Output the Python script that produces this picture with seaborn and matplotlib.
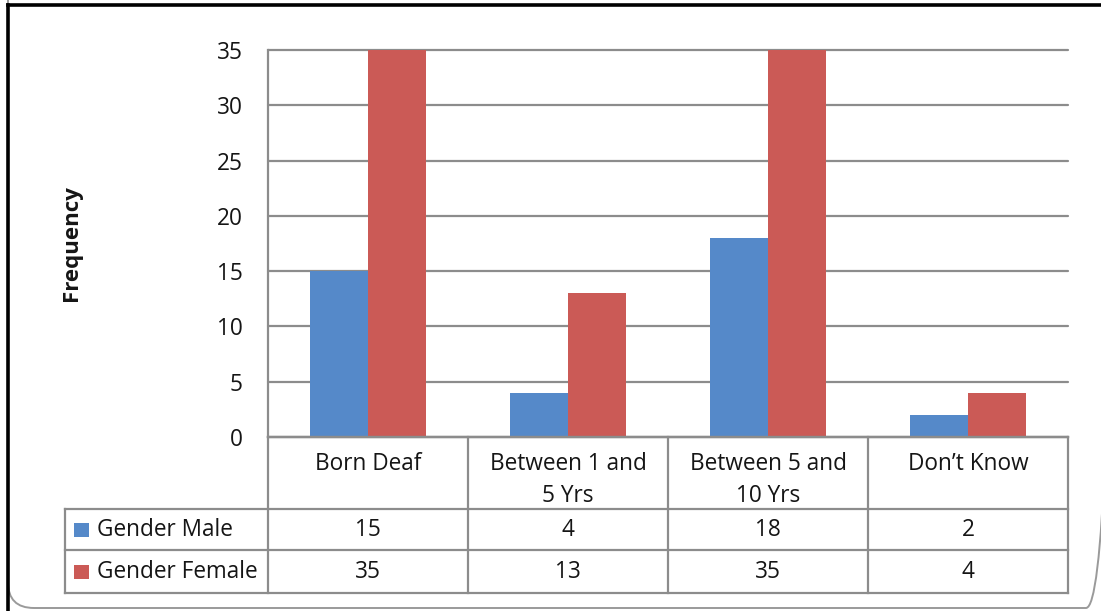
import matplotlib
matplotlib.use("Agg")
import matplotlib.pyplot as plt
import seaborn as sns
import pandas as pd
from matplotlib.patches import FancyBboxPatch, Rectangle
from matplotlib.lines import Line2D

# ---- data ----
categories = ["Born Deaf", "Between 1 and\n5 Yrs", "Between 5 and\n10 Yrs", "Don\u2019t Know"]
series_names = ["Gender Male", "Gender Female"]
male_values = [15, 4, 18, 2]
female_values = [35, 13, 35, 4]
y_ticks = [0, 5, 10, 15, 20, 25, 30, 35]
colors = ["#5589C9", "#CB5A56"]

# ---- styling ----
W, H = 1101, 611
sns.set_theme(style="white")
plt.rcParams["font.family"] = ["Open Sans", "DejaVu Sans"]
TEXT = "#151515"
GRID = "#8C8C8C"
FS = 16.3

fig = plt.figure(figsize=(W / 100, H / 100), dpi=100)
fig.patch.set_facecolor("white")

# layout (pixels)
plot_l, plot_r, plot_t, plot_b = 268, 1068, 50, 437
label_l = 65
row_edges = [437, 509, 550, 593]


def rect(l, t, r, b):
    return [l / W, 1 - b / H, (r - l) / W, (b - t) / H]


# ---- bar chart ----
ax = fig.add_axes(rect(plot_l, plot_t, plot_r, plot_b))
df = pd.DataFrame({
    "category": categories * len(series_names),
    "series": [s for s in series_names for _ in categories],
    "value": male_values + female_values,
})
sns.barplot(data=df, x="category", y="value", hue="series", palette=colors,
            width=0.58, gap=0, saturation=1, ax=ax, legend=False,
            linewidth=0, errorbar=None)
ax.set_xlim(-0.5, len(categories) - 0.5)
ax.set_ylim(0, max(y_ticks))
ax.set_yticks(y_ticks)
ax.set_xticks([])
ax.set_xlabel("")
ax.set_ylabel("")
ax.set_axisbelow(True)
ax.yaxis.grid(True, color=GRID, linewidth=1.6)
for gl in ax.get_ygridlines():
    gl.set_clip_on(False)
ax.tick_params(axis="y", length=0, pad=18, labelsize=FS, labelcolor=TEXT)
for side in ["top", "right"]:
    ax.spines[side].set_visible(False)
for side in ["left", "bottom"]:
    ax.spines[side].set_color(GRID)
    ax.spines[side].set_linewidth(1.6)
ax.patch.set_alpha(0)

# ---- overlay in pixel coordinates: table, labels, frame ----
ov = fig.add_axes([0, 0, 1, 1], zorder=5)
ov.set_xlim(0, W)
ov.set_ylim(H, 0)
ov.axis("off")

ov.text(71, 243, "Frequency", rotation=90, ha="center", va="center",
        fontsize=16, fontweight="bold", color=TEXT)

ncat = len(categories)
col_w = (plot_r - plot_l) / ncat
lw = 1.6

# horizontal table lines
for i, y in enumerate(row_edges):
    x0 = plot_l if i == 0 else label_l
    ov.plot([x0, plot_r], [y, y], color=GRID, lw=lw, solid_capstyle="projecting")
# vertical table lines
ov.plot([label_l, label_l], [row_edges[1], row_edges[-1]], color=GRID, lw=lw,
        solid_capstyle="projecting")
for k in range(ncat + 1):
    x = plot_l + k * col_w
    ov.plot([x, x], [row_edges[0], row_edges[-1]], color=GRID, lw=lw,
            solid_capstyle="projecting")

# category header cells
for k, cat in enumerate(categories):
    cx = plot_l + (k + 0.5) * col_w
    for j, line in enumerate(cat.split("\n")):
        ov.text(cx, row_edges[0] + 27 + j * 32, line, ha="center", va="center",
                fontsize=FS, color=TEXT)

# series rows
for r, (name, vals, col) in enumerate(zip(series_names, [male_values, female_values], colors)):
    cy = (row_edges[r + 1] + row_edges[r + 2]) / 2
    ov.add_patch(Rectangle((74, cy - 7), 15, 14, facecolor=col, edgecolor="none"))
    ov.text(97, cy, name, ha="left", va="center", fontsize=FS, color=TEXT)
    for k, v in enumerate(vals):
        cx = plot_l + (k + 0.5) * col_w
        ov.text(cx, cy, str(v), ha="center", va="center", fontsize=FS, color=TEXT)

# rounded grey chart border; only its lower corners fall on the canvas
ov.add_patch(FancyBboxPatch((8, -60), 1104, 668,
                            boxstyle="round,pad=0,rounding_size=26",
                            facecolor="none", edgecolor="#9A9A9A", lw=1.4,
                            clip_on=False, zorder=3))
# dark frame lines along the top and left
ov.add_line(Line2D([8, W], [5, 5], color="black", lw=2.6, zorder=6, clip_on=False,
                   solid_capstyle="projecting"))
ov.add_line(Line2D([8, 8], [5, H], color="black", lw=2.6, zorder=6, clip_on=False,
                   solid_capstyle="projecting"))

fig.savefig("out.png", dpi=100)
